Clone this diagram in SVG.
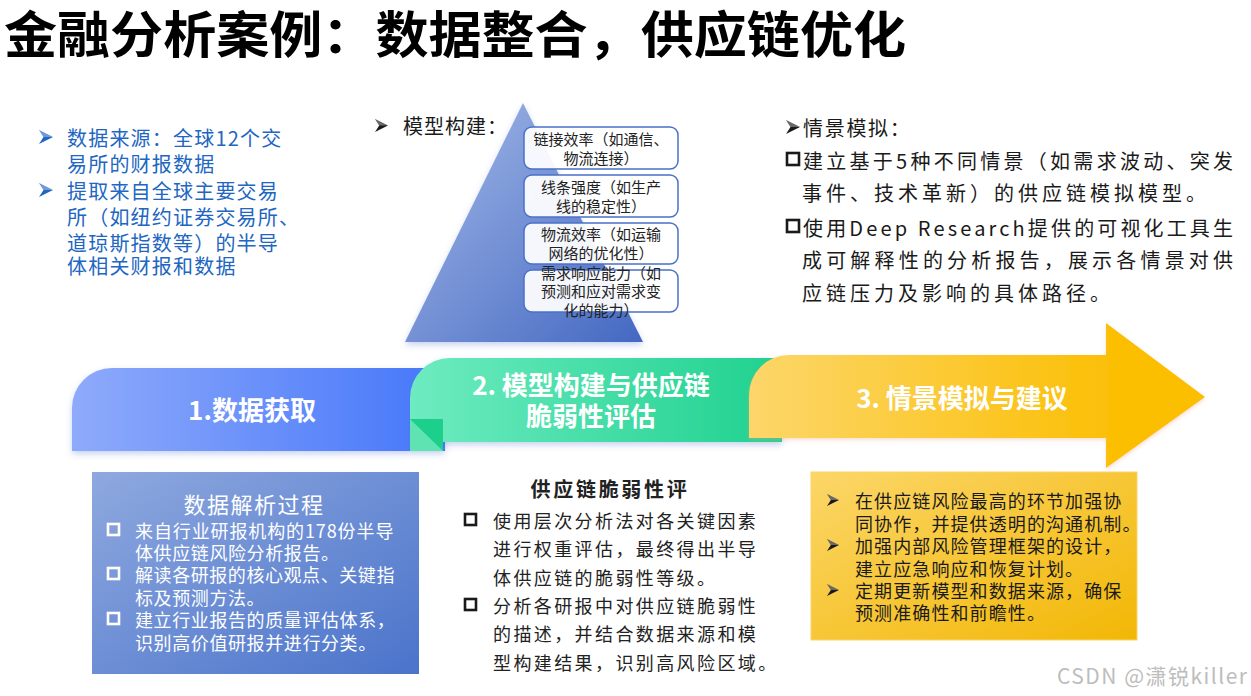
<svg xmlns="http://www.w3.org/2000/svg" width="1251" height="696" viewBox="0 0 1251 696">
<defs>
<style>
text{font-family:"Noto Sans CJK SC","Liberation Sans",sans-serif;}
.t{font-weight:bold;font-size:50px;fill:#000;}
.blue{font-size:20px;fill:#2166c2;letter-spacing:1.2px;}
.dk{font-size:20px;fill:#1a1a1a;letter-spacing:4px;}
.bx{font-size:15px;fill:#222;text-anchor:middle;}
.st{font-size:26px;font-weight:bold;fill:#fff;text-anchor:middle;}
.wa{font-size:18px;fill:#fff;letter-spacing:0.6px;}
.bb{font-size:18px;fill:#222;letter-spacing:2.4px;}
.yc{font-size:18px;fill:#1a1a1a;letter-spacing:1.1px;}
.box{fill:#fff;fill-opacity:0.93;stroke:#4a72c8;stroke-width:1.5;}
.sq{fill:none;stroke-width:2.6;}
</style>
<symbol id="dart" viewBox="0 0 14 14">
<path d="M0,0 L14,7 L0,14 L4.5,7 Z"/>
<path d="M0,0 L14,7 L4.5,7 Z" fill-opacity="0.35" fill="#fff"/>
</symbol>
<linearGradient id="gPyr" x1="0" y1="0" x2="1" y2="1">
<stop offset="0" stop-color="#a6bbe8"/><stop offset="1" stop-color="#4468c2"/>
</linearGradient>
<linearGradient id="gBlue" x1="0" y1="0" x2="1" y2="0">
<stop offset="0" stop-color="#8eaafa"/><stop offset="1" stop-color="#4677fa"/>
</linearGradient>
<linearGradient id="gGreen" x1="0" y1="0" x2="1" y2="0">
<stop offset="0" stop-color="#6eebc0"/><stop offset="1" stop-color="#1fd18f"/>
</linearGradient>
<linearGradient id="gYel" x1="0" y1="0" x2="1" y2="0">
<stop offset="0" stop-color="#fcd66a"/><stop offset="0.8" stop-color="#fbbf05"/><stop offset="1" stop-color="#fbbf05"/>
</linearGradient>
<linearGradient id="gBoxA" x1="0" y1="0" x2="1" y2="1">
<stop offset="0" stop-color="#8fa9df"/><stop offset="1" stop-color="#4a73ca"/>
</linearGradient>
<linearGradient id="gBoxC" x1="0" y1="0" x2="1" y2="1">
<stop offset="0" stop-color="#fcd668"/><stop offset="1" stop-color="#f2b705"/>
</linearGradient>
<filter id="sh" x="-10%" y="-10%" width="120%" height="130%">
<feDropShadow dx="0" dy="3" stdDeviation="3" flood-color="#4a6fd0" flood-opacity="0.3"/>
</filter>
<filter id="shY" x="-10%" y="-10%" width="120%" height="130%">
<feDropShadow dx="0" dy="2" stdDeviation="2" flood-color="#f0a080" flood-opacity="0.35"/>
</filter>
</defs>
<rect width="1251" height="696" fill="#fff"/>

<g id="title">
<text class="t" x="4" y="31" dominant-baseline="central" textLength="902" lengthAdjust="spacingAndGlyphs">金融分析案例：数据整合，供应链优化</text>
</g>

<g id="data-source">
<use href="#dart" x="39" y="130" width="14" height="14" fill="#2166c2"/>
<use href="#dart" x="39" y="183" width="14" height="14" fill="#2166c2"/>
<text class="blue" x="67" y="137" dominant-baseline="central">数据来源：全球12个交</text>
<text class="blue" x="67" y="163" dominant-baseline="central">易所的财报数据</text>
<text class="blue" x="67" y="190" dominant-baseline="central">提取来自全球主要交易</text>
<text class="blue" x="67" y="216" dominant-baseline="central">所（如纽约证券交易所、</text>
<text class="blue" x="67" y="242" dominant-baseline="central">道琼斯指数等）的半导</text>
<text class="blue" x="67" y="265" dominant-baseline="central">体相关财报和数据</text>
</g>

<g id="model-pyramid">
<path d="M523,103 L643,342 L405,342 Z" fill="url(#gPyr)" filter="url(#sh)"/>
<use href="#dart" x="375" y="119" width="13" height="13" fill="#1a1a1a"/>
<text x="403" y="125" dominant-baseline="central" font-size="20" fill="#1a1a1a" letter-spacing="1">模型构建：</text>
<rect class="box" x="524" y="127" width="154" height="42" rx="8"/>
<text class="bx" x="601" y="138" dominant-baseline="central">链接效率（如通信、</text>
<text class="bx" x="601" y="157" dominant-baseline="central">物流连接）</text>
<rect class="box" x="524" y="175" width="154" height="42" rx="8"/>
<text class="bx" x="601" y="186" dominant-baseline="central">线条强度（如生产</text>
<text class="bx" x="601" y="205" dominant-baseline="central">线的稳定性）</text>
<rect class="box" x="524" y="223" width="154" height="41" rx="8"/>
<text class="bx" x="601" y="233" dominant-baseline="central">物流效率（如运输</text>
<text class="bx" x="601" y="252" dominant-baseline="central">网络的优化性）</text>
<rect class="box" x="524" y="270" width="154" height="42" rx="8"/>
<text class="bx" x="601" y="272" dominant-baseline="central">需求响应能力（如</text>
<text class="bx" x="601" y="290" dominant-baseline="central">预测和应对需求变</text>
<text class="bx" x="601" y="309" dominant-baseline="central">化的能力）</text>
</g>

<g id="scenario-text">
<use href="#dart" x="786" y="120" width="14" height="14" fill="#1a1a1a"/>
<text x="803" y="127" dominant-baseline="central" font-size="20" fill="#1a1a1a" letter-spacing="1.7">情景模拟：</text>
<rect class="sq" x="787" y="153" width="12" height="12" stroke="#1a1a1a"/>
<text class="dk" x="803" y="160" dominant-baseline="central" textLength="434" lengthAdjust="spacing">建立基于5种不同情景（如需求波动、突发</text>
<text class="dk" x="802" y="192" dominant-baseline="central">事件、技术革新）的供应链模拟模型。</text>
<rect class="sq" x="787" y="220" width="12" height="12" stroke="#1a1a1a"/>
<text class="dk" x="803" y="227" dominant-baseline="central" textLength="434" lengthAdjust="spacing">使用Deep Research提供的可视化工具生</text>
<text class="dk" x="802" y="259" dominant-baseline="central" textLength="435" lengthAdjust="spacing">成可解释性的分析报告，展示各情景对供</text>
<text class="dk" x="802" y="292" dominant-baseline="central">应链压力及影响的具体路径。</text>
</g>

<g id="stage-1">
<path d="M72,451 V408 A40,40 0 0 1 112,368 H445 V451 Z" fill="url(#gBlue)" filter="url(#sh)"/>
<text class="st" x="252" y="408" dominant-baseline="central">1.数据获取</text>
</g>

<g id="stage-2">
<path d="M410,442 V398 A40,40 0 0 1 450,358 H782 V442 Z" fill="url(#gGreen)" filter="url(#sh)"/>
<rect x="410" y="419" width="33" height="32" fill="#5fe3b2"/>
<path d="M410,419 H443 V451 Z" fill="#1ccf8b"/>
<text class="st" x="591" y="383" dominant-baseline="central">2. 模型构建与供应链</text>
<text class="st" x="591" y="414" dominant-baseline="central">脆弱性评估</text>
</g>

<g id="stage-3">
<path d="M749,438 V395 A40,40 0 0 1 789,355 H1106 V323 L1205,397 L1106,468 V438 Z" fill="url(#gYel)" filter="url(#shY)"/>
<text class="st" x="962" y="396" dominant-baseline="central">3. 情景模拟与建议</text>
</g>

<g id="connectors"></g>

<g id="box-data-parsing">
<rect x="92" y="472" width="327" height="202" fill="url(#gBoxA)"/>
<text x="254" y="503" dominant-baseline="central" text-anchor="middle" font-size="22" fill="#fff" letter-spacing="1.5">数据解析过程</text>
<rect class="sq" x="108" y="524" width="11" height="11" stroke="#fff" stroke-width="2.5"/>
<text class="wa" x="135" y="530" dominant-baseline="central" textLength="259" lengthAdjust="spacing">来自行业研报机构的178份半导</text>
<text class="wa" x="135" y="552" dominant-baseline="central">体供应链风险分析报告。</text>
<rect class="sq" x="108" y="568" width="11" height="11" stroke="#fff" stroke-width="2.5"/>
<text class="wa" x="135" y="574" dominant-baseline="central" textLength="260" lengthAdjust="spacing">解读各研报的核心观点、关键指</text>
<text class="wa" x="135" y="597" dominant-baseline="central">标及预测方法。</text>
<rect class="sq" x="108" y="613" width="11" height="11" stroke="#fff" stroke-width="2.5"/>
<text class="wa" x="135" y="619" dominant-baseline="central">建立行业报告的质量评估体系，</text>
<text class="wa" x="135" y="642" dominant-baseline="central">识别高价值研报并进行分类。</text>
</g>

<g id="box-vulnerability">
<text x="610" y="488" dominant-baseline="central" text-anchor="middle" font-size="20" font-weight="bold" fill="#222" letter-spacing="2.7">供应链脆弱性评</text>
<rect class="sq" x="465" y="514" width="11" height="11" stroke="#1a1a1a"/>
<text class="bb" x="493" y="520" dominant-baseline="central">使用层次分析法对各关键因素</text>
<text class="bb" x="493" y="548" dominant-baseline="central">进行权重评估，最终得出半导</text>
<text class="bb" x="493" y="577" dominant-baseline="central">体供应链的脆弱性等级。</text>
<rect class="sq" x="465" y="599" width="11" height="11" stroke="#1a1a1a"/>
<text class="bb" x="493" y="605" dominant-baseline="central">分析各研报中对供应链脆弱性</text>
<text class="bb" x="493" y="633" dominant-baseline="central">的描述，并结合数据来源和模</text>
<text class="bb" x="493" y="662" dominant-baseline="central">型构建结果，识别高风险区域。</text>
</g>

<g id="box-recommendations">
<rect x="811" y="472" width="326" height="168" fill="url(#gBoxC)" stroke="#fbd46a" stroke-width="1"/>
<use href="#dart" x="827" y="494" width="12" height="12" fill="#1a1a1a"/>
<text class="yc" x="855" y="500" dominant-baseline="central">在供应链风险最高的环节加强协</text>
<text class="yc" x="855" y="523" dominant-baseline="central">同协作，并提供透明的沟通机制。</text>
<use href="#dart" x="827" y="539" width="12" height="12" fill="#1a1a1a"/>
<text class="yc" x="855" y="545" dominant-baseline="central">加强内部风险管理框架的设计，</text>
<text class="yc" x="855" y="568" dominant-baseline="central">建立应急响应和恢复计划。</text>
<use href="#dart" x="827" y="584" width="12" height="12" fill="#1a1a1a"/>
<text class="yc" x="855" y="590" dominant-baseline="central">定期更新模型和数据来源，确保</text>
<text class="yc" x="855" y="612" dominant-baseline="central">预测准确性和前瞻性。</text>
</g>

<g id="watermark">
<text x="1057" y="675" dominant-baseline="central" font-size="21" fill="#bdbdbd" textLength="190" lengthAdjust="spacing">CSDN @潇锐killer</text>
</g>
</svg>
